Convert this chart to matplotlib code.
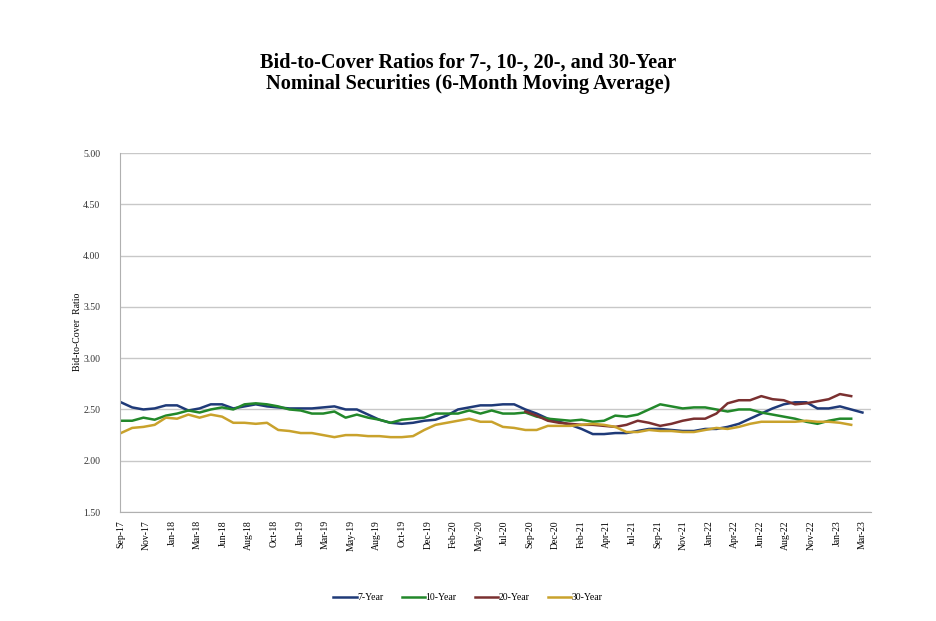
import matplotlib.pyplot as plt
import numpy as np

# Tick labels (evenly spaced along the category axis)
tick_labels = ['Sep-17', 'Nov-17', 'Jan-18', 'Mar-18', 'Jun-18', 'Aug-18', 'Oct-18',
               'Jan-19', 'Mar-19', 'May-19', 'Aug-19', 'Oct-19', 'Dec-19', 'Feb-20',
               'May-20', 'Jul-20', 'Sep-20', 'Dec-20', 'Feb-21', 'Apr-21', 'Jul-21',
               'Sep-21', 'Nov-21', 'Jan-22', 'Apr-22', 'Jun-22', 'Aug-22', 'Nov-22',
               'Jan-23', 'Mar-23']

# monthly values, Sep-17 .. Mar-23
yr7 = [2.57, 2.52, 2.50, 2.51, 2.54, 2.54, 2.49, 2.51, 2.55, 2.55,
       2.51, 2.53, 2.55, 2.53, 2.52, 2.51, 2.51, 2.51, 2.52, 2.53,
       2.50, 2.50, 2.45, 2.40, 2.37, 2.36, 2.37, 2.39, 2.40, 2.44,
       2.50, 2.52, 2.54, 2.54, 2.55, 2.55, 2.50, 2.46, 2.41, 2.38,
       2.35, 2.31, 2.26, 2.26, 2.27, 2.27, 2.29, 2.31, 2.31, 2.30,
       2.29, 2.29, 2.31, 2.31, 2.33, 2.36, 2.41, 2.46, 2.51, 2.55,
       2.57, 2.57, 2.51, 2.51, 2.53, 2.50, 2.47]

yr10 = [2.39, 2.39, 2.42, 2.40, 2.44, 2.46, 2.49, 2.47, 2.50, 2.52,
        2.50, 2.55, 2.56, 2.55, 2.53, 2.50, 2.49, 2.46, 2.46, 2.48,
        2.42, 2.45, 2.42, 2.40, 2.37, 2.40, 2.41, 2.42, 2.46, 2.46,
        2.46, 2.49, 2.46, 2.49, 2.46, 2.46, 2.47, 2.43, 2.41, 2.40,
        2.39, 2.40, 2.38, 2.39, 2.44, 2.43, 2.45, 2.50, 2.55, 2.53,
        2.51, 2.52, 2.52, 2.50, 2.48, 2.50, 2.50, 2.47, 2.45, 2.43,
        2.41, 2.38, 2.36, 2.39, 2.41, 2.41, np.nan]

yr20 = [np.nan] * 36 + [
        2.48, 2.44, 2.39, 2.37, 2.36, 2.35, 2.35, 2.34, 2.33, 2.35,
        2.39, 2.37, 2.34, 2.36, 2.39, 2.41, 2.41, 2.46, 2.56, 2.59,
        2.59, 2.63, 2.60, 2.59, 2.55, 2.56, 2.58, 2.60, 2.65, 2.63, np.nan]

yr30 = [2.27, 2.32, 2.33, 2.35, 2.42, 2.41, 2.45, 2.42, 2.45, 2.43,
        2.37, 2.37, 2.36, 2.37, 2.30, 2.29, 2.27, 2.27, 2.25, 2.23,
        2.25, 2.25, 2.24, 2.24, 2.23, 2.23, 2.24, 2.30, 2.35, 2.37,
        2.39, 2.41, 2.38, 2.38, 2.33, 2.32, 2.30, 2.30, 2.34, 2.34,
        2.34, 2.35, 2.36, 2.35, 2.33, 2.28, 2.28, 2.30, 2.29, 2.29,
        2.28, 2.28, 2.30, 2.32, 2.31, 2.33, 2.36, 2.38, 2.38, 2.38,
        2.38, 2.39, 2.38, 2.38, 2.37, 2.35, np.nan]

series = [yr7, yr10, yr20, yr30]
labels = ['7-Year', '10-Year', '20-Year', '30-Year']
colors = ['#1f3a78', '#22882a', '#7a3030', '#c9a22c']

fig = plt.figure(figsize=(9.36, 6.21), dpi=100)
ax = fig.add_axes([0.128, 0.1755, 0.803, 0.578])

x = np.arange(len(yr7))
for i in range(len(series)):
    ax.plot(x, series[i], color=colors[i], lw=1.8, label=labels[i])

ax.set_ylim(1.5, 5.0)
ax.set_yticks(np.arange(1.5, 5.01, 0.5))
ax.set_yticklabels(['%.2f' % v for v in np.arange(1.5, 5.01, 0.5)],
                   fontsize=7, family='Liberation Serif', color='#333333')
ax.set_xlim(-0.1, 66.8)
ax.set_xticks(np.linspace(0, 66, len(tick_labels)))
ax.set_xticklabels(tick_labels, rotation=90, fontsize=7, family='Liberation Serif')
ax.tick_params(length=0, pad=6)
ax.tick_params(axis='y', pad=14)

ax.grid(axis='y', color='#c8c8c8', lw=1)
ax.set_axisbelow(True)
for s in ['top', 'right']:
    ax.spines[s].set_visible(False)
for s in ['left', 'bottom']:
    ax.spines[s].set_color('#b0b0b0')

fig.text(0.083, 0.465, 'Bid-to-Cover  Ratio', rotation=90, ha='center', va='center',
         fontsize=7, family='Liberation Serif')

fig.text(0.5, 1 - 73 / 621, 'Bid-to-Cover Ratios for 7-, 10-, 20-, and 30-Year\n'
         'Nominal Securities (6-Month Moving Average)', ha='center', va='center',
         fontsize=14.6, fontweight='bold', family='Liberation Serif', linespacing=1.1)

fig.legend(loc='center', bbox_to_anchor=(0.5, 1 - 598 / 621), ncol=4, frameon=False,
           prop={'family': 'Liberation Serif', 'size': 7}, handlelength=2.4,
           handletextpad=0.05, columnspacing=1.9)

fig.savefig('out.png', dpi=100)
